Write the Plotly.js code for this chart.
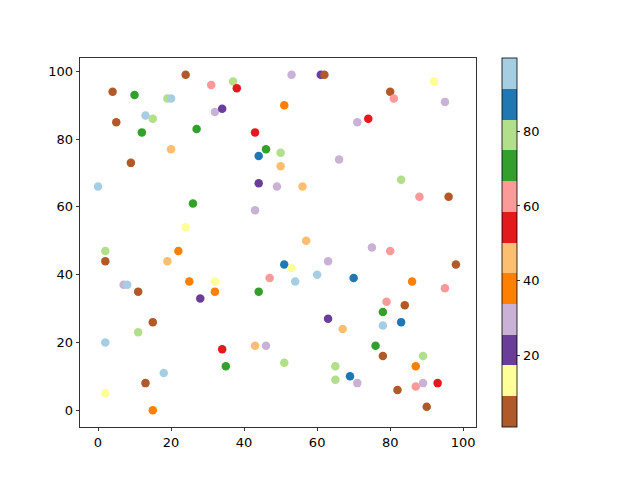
<!DOCTYPE html>
<html>
<head>
<meta charset="utf-8">
<script src="https://cdn.plot.ly/plotly-3.0.1.min.js"></script>
<style>
  body { margin: 0; background: #fff; }
  #chart { width: 640px; height: 480px; }
</style>
</head>
<body>
<div id="chart"></div>
<script>
// point positions
const xs = [24, 31, 37, 38, 4, 10, 19, 20, 13, 15,
            5, 12, 27, 32, 34, 20, 9, 43, 46, 44,
            50, 50, 44, 0, 49, 56, 43, 26, 53, 61,
            62, 92, 80, 81, 95, 51, 74, 71, 66, 83,
            88, 96, 57, 75, 80, 63, 51, 53, 98, 60,
            70, 54, 47, 86, 95, 79, 84, 24, 2, 2,
            22, 19, 7, 8, 11, 25, 32, 32, 44, 28,
            15, 11, 2, 34, 43, 46, 35, 18, 13, 2,
            15, 78, 63, 83, 78, 67, 76, 78, 51, 89,
            87, 65, 69, 65, 71, 87, 89, 93, 82, 90];
const ys = [99, 96, 97, 95, 94, 93, 92, 92, 87, 86,
            85, 82, 83, 88, 89, 77, 73, 82, 77, 75,
            76, 72, 67, 66, 66, 66, 59, 61, 99, 99,
            99, 97, 94, 92, 91, 90, 86, 85, 74, 68,
            63, 63, 50, 48, 47, 44, 43, 42, 43, 40,
            39, 38, 39, 38, 36, 32, 31, 54, 47, 44,
            47, 44, 37, 37, 35, 38, 38, 35, 35, 33,
            26, 23, 20, 18, 19, 19, 13, 11, 8, 5,
            0, 29, 27, 26, 25, 24, 19, 16, 14, 16,
            13, 13, 10, 9, 8, 7, 8, 8, 6, 1];
// colour values (estimated from colour bins)
const cs = [5, 62, 79, 54, 5, 71, 79, 95, 95, 79,
            5, 71, 71, 30, 21, 46, 5, 54, 71, 87,
            79, 46, 21, 95, 30, 46, 30, 71, 30, 21,
            5, 13, 5, 62, 30, 38, 54, 30, 30, 79,
            62, 5, 46, 30, 62, 30, 87, 13, 5, 95,
            87, 95, 62, 38, 62, 62, 5, 13, 79, 5,
            38, 46, 30, 95, 5, 38, 13, 38, 71, 21,
            5, 79, 95, 54, 46, 30, 71, 95, 5, 13,
            38, 71, 21, 87, 95, 46, 71, 5, 79, 79,
            38, 79, 87, 79, 30, 62, 30, 54, 5, 5];
const cbTicks = [20, 40, 60, 80];

const pairedR = ['#b15928', '#ffff99', '#6a3d9a', '#cab2d6', '#ff7f00', '#fdbf6f',
                 '#e31a1c', '#fb9a99', '#33a02c', '#b2df8a', '#1f78b4', '#a6cee3'];
const scale = [];
pairedR.forEach(function (col, i) {
  scale.push([i / 12, col]);
  scale.push([(i + 1) / 12, col]);
});

const font = { family: 'DejaVu Sans', size: 13, color: '#000' };

const trace = {
  x: xs,
  y: ys,
  mode: 'markers',
  type: 'scatter',
  marker: {
    size: 8.5,
    color: cs,
    cmin: 1,
    cmax: 99.5,
    colorscale: scale,
    line: { width: 0 },
    colorbar: {
      x: 1.066, xanchor: 'left', xpad: 0,
      y: 0.5, yanchor: 'middle', ypad: 0,
      len: 1, lenmode: 'fraction',
      thickness: 15, thicknessmode: 'pixels',
      outlinecolor: '#000', outlinewidth: 0.8,
      tickvals: cbTicks, ticks: 'outside', ticklen: 3.5, tickwidth: 0.8,
      tickcolor: '#000', tickfont: font
    }
  }
};

const axis = {
  showgrid: false, zeroline: false,
  showline: true, linecolor: '#000', linewidth: 0.8, mirror: true,
  ticks: 'outside', ticklen: 3.5, tickwidth: 0.8, tickcolor: '#000',
  dtick: 20, tickfont: font
};

const layout = {
  width: 640, height: 480,
  margin: { l: 80, r: 164, t: 58, b: 53 },
  paper_bgcolor: '#fff', plot_bgcolor: '#fff',
  showlegend: false,
  xaxis: Object.assign({}, axis, { range: [-4.93, 103.5] }),
  yaxis: Object.assign({}, axis, { range: [-4.95, 103.95] })
};

Plotly.newPlot('chart', [trace], layout, { displayModeBar: false, staticPlot: true });
</script>
</body>
</html>
